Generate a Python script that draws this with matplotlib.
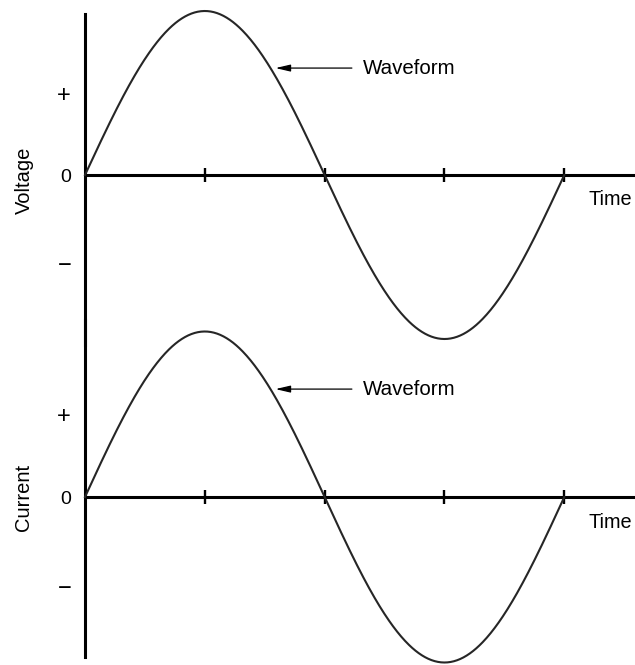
import numpy as np
import matplotlib

matplotlib.use('Agg')
import matplotlib.pyplot as plt

plt.rcParams['font.family'] = ['Liberation Sans', 'DejaVu Sans']

# time axis in quarter periods, one full cycle shown
time_ticks = [1, 2, 3, 4]
cycle_end = 4
x_max = 4.59

panel_names = ['Voltage', 'Current']
amplitudes = [1.0, 1.0]
level_labels = ['+', '0', '\u2212']
level_pos = [0.5, 0, -0.54]
level_sizes = [17, 14, 17]
note_text = 'Waveform'
time_label = 'Time'

W, H = 635, 665
fig = plt.figure(figsize=(W / 100, H / 100), dpi=100)

# pixel layout: (top px, bottom px, zero px, amplitude px, spine top px, spine bottom px)
layouts = [(0, 345, 175, 164, 14, 345),
           (320, 665, 497, 165.5, 320, 657)]

t = np.linspace(0, cycle_end, 600)

for name, amp, (top, bot, zero, a_px, s_top, s_bot) in zip(panel_names, amplitudes, layouts):
    ax = fig.add_axes((85 / W, 1 - bot / H, 550 / W, (bot - top) / H))
    ax.patch.set_alpha(0)
    ax.set_xlim(0, x_max)
    ax.set_ylim(-(bot - zero) / a_px, (zero - top) / a_px)

    for s in ['top', 'right', 'bottom']:
        ax.spines[s].set_visible(False)
    ax.spines['left'].set_linewidth(2.2)
    ax.spines['left'].set_bounds((zero - s_bot) / a_px, (zero - s_top) / a_px)

    # zero line and time ticks
    ax.axhline(0, color='black', lw=2.2, zorder=2)
    ax.plot(time_ticks, [0] * len(time_ticks), ls='none', marker='|',
            ms=10.5, mew=1.7, color='black', zorder=3)

    # waveform
    y = amp * np.sin(np.pi * t / 2)
    ax.plot(t, y, color='#262626', lw=1.5, zorder=4, clip_on=False)

    ax.set_xticks([])
    ax.set_yticks(level_pos)
    ax.set_yticklabels(level_labels)
    for lab, fs in zip(ax.get_yticklabels(), level_sizes):
        lab.set_fontsize(fs)
    ax.tick_params(axis='y', length=0, pad=10)

    # arrow pointing at the falling part of the curve
    ny = 0.652
    nx = 2 - np.arcsin(ny / amp) * 2 / np.pi
    ax.annotate(note_text, xy=(nx + 0.03, ny), xytext=(2.32, ny), fontsize=14.8,
                ha='left', va='center',
                arrowprops=dict(arrowstyle='-|>,head_length=0.6,head_width=0.14',
                                lw=0.9, color='black', shrinkA=6, shrinkB=1))

    ax.text(4.57, -0.152, time_label, fontsize=14.3, ha='right', va='center')

    fig.text(24 / W, 1 - ((zero + 5) if name == 'Voltage' else zero) / H, name,
             rotation=90, fontsize=14.5, ha='center', va='center')

fig.savefig('out.png', dpi=100)
